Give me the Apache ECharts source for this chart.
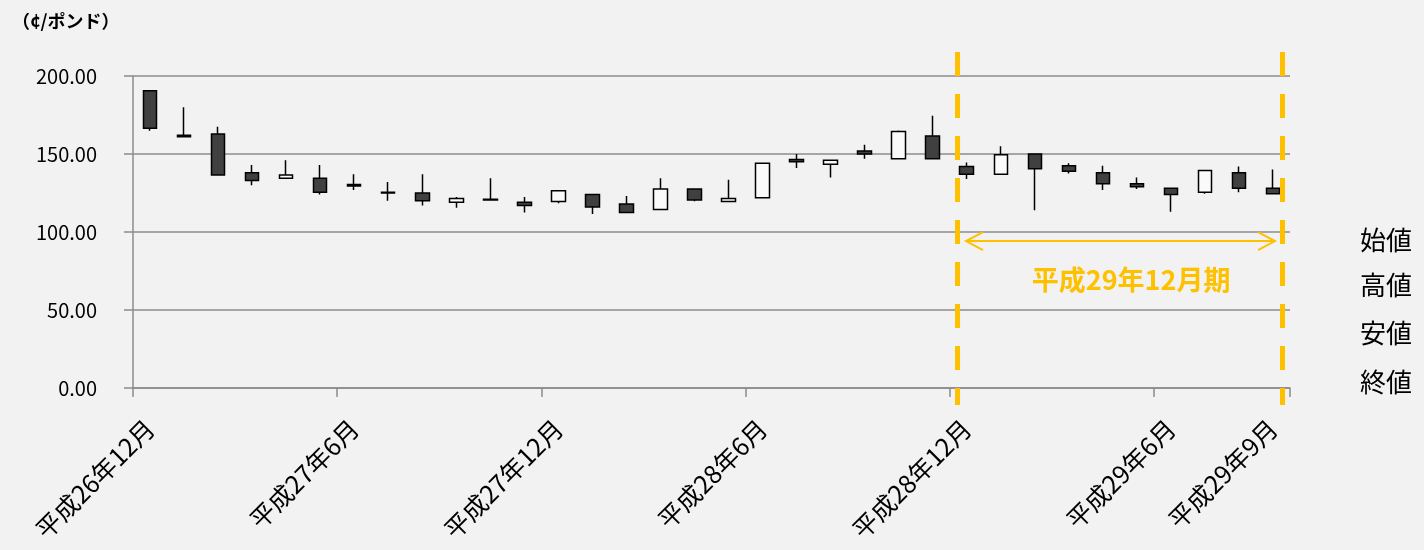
<!DOCTYPE html>
<html><head><meta charset="utf-8">
<script src="https://cdn.jsdelivr.net/npm/echarts@6/dist/echarts.min.js"></script>
<style>html,body{margin:0;padding:0;background:#f2f2f2}#c{width:1424px;height:550px}</style>
</head><body><div id="c"></div>
<script>
const categories = [
  '平成26年12月',
  '平成27年1月','平成27年2月','平成27年3月','平成27年4月','平成27年5月','平成27年6月',
  '平成27年7月','平成27年8月','平成27年9月','平成27年10月','平成27年11月','平成27年12月',
  '平成28年1月','平成28年2月','平成28年3月','平成28年4月','平成28年5月','平成28年6月',
  '平成28年7月','平成28年8月','平成28年9月','平成28年10月','平成28年11月','平成28年12月',
  '平成29年1月','平成29年2月','平成29年3月','平成29年4月','平成29年5月','平成29年6月',
  '平成29年7月','平成29年8月','平成29年9月'
];
const opens  = [190.6,162,162.8,138,134.5,134.5,130.5,125.5,125,119,121,119,119.5,124,118,114.5,127.5,119.5,122,146.5,143.5,152,147,161.5,142,137,150,142.5,138,131,128,125.5,138,128];
const closes = [166.5,161,136.5,133,136.5,125.5,129.5,125,120,121.5,120.5,117,126.5,116,112.5,127.5,120.5,121.5,144,145,146,150,164.5,147,137,149.5,140.5,139,131,129,124,139.5,128,124.5];
const lows   = [164.9,161,136.5,130,134.5,124,127,120,117,115.5,120,112.5,118.5,111.5,112.5,114.5,119.7,119.5,122,141,135,147,146.5,147,134,137,114,137.5,127,127.5,113,124.5,125.5,124.5];
const highs  = [190.6,180,167.5,143,146,143,137,132,137,122.5,134.5,122.5,126.5,124,123,134.5,127.5,133.5,144,150,146,156,165,174.5,144.5,155,150,144,142.5,135,128,139.5,142,140];
const yTicks = [0, 50, 100, 150, 200];
const labelIdx = [0, 6, 12, 18, 24, 30, 33];
const legendNames = ['始値', '高値', '安値', '終値'];
const periodLabel = '平成29年12月期';
const unitLabel = '（¢/ポンド）';
// annotation positions on a month scale (0 = start of first month)
const periodStart = 24.23, periodEnd = 33.78;
const arrowFrom = 24.48, arrowTo = 33.56, arrowY = 94.2, textX = 29.33, textY = 69.2;
const dashTop = 215.4, dashBottom = -10.9;

const candleData = categories.map((c, i) => [opens[i], closes[i], lows[i], highs[i]]);
const chart = echarts.init(document.getElementById('c'));
const axisColor = '#8c8c8c';
const font = '"Noto Sans CJK JP", "Noto Sans", sans-serif';

chart.setOption({
  backgroundColor: '#f2f2f2',
  animation: false,
  textStyle: { fontFamily: font },
  grid: { left: 133, right: 134, top: 76, bottom: 162, containLabel: false },
  xAxis: [{
    type: 'category', data: categories, boundaryGap: true,
    axisLine: { lineStyle: { color: axisColor, width: 1.5 } },
    axisTick: { show: true, length: 9, lineStyle: { color: axisColor, width: 1.5 },
      interval: (i) => i % 6 === 0 && i <= 30 },
    axisLabel: { interval: (i) => labelIdx.indexOf(i) >= 0, rotate: 45, fontSize: 25, color: '#000',
      margin: 36, fontFamily: font },
    splitLine: { show: false }
  }, {
    type: 'value', min: 0, max: 34, show: false
  }],
  yAxis: {
    type: 'value', min: yTicks[0], max: yTicks[yTicks.length - 1], interval: 50,
    axisLine: { show: true, lineStyle: { color: axisColor, width: 1.5 } },
    axisTick: { show: true, length: 9, lineStyle: { color: axisColor, width: 1.5 } },
    axisLabel: { formatter: (v) => v.toFixed(2), fontSize: 20, color: '#000', margin: 36, fontFamily: font,
      padding: [0, 0, 9, 0] },
    splitLine: { lineStyle: { color: axisColor, width: 1.5 } }
  },
  series: [{
    type: 'candlestick', data: candleData, barWidth: 14,
    itemStyle: { color: '#fafafa', color0: '#404040', borderColor: '#000', borderColor0: '#000', borderWidth: 1.5 }
  }]
});

const px = (v) => chart.convertToPixel({ xAxisIndex: 1 }, v);
const py = (v) => chart.convertToPixel({ yAxisIndex: 0 }, v);
const orange = '#FFC000';
const xa = px(arrowFrom), xb = px(arrowTo), ya = py(arrowY);
const graphics = [
  { type: 'text', x: 12, y: 21, style: { text: unitLabel, font: 'bold 18px ' + font, fill: '#000', textVerticalAlign: 'middle' } }
];
[periodStart, periodEnd].forEach(v => {
  graphics.push({ type: 'line', shape: { x1: px(v), y1: py(dashTop), x2: px(v), y2: py(dashBottom) },
    style: { stroke: orange, lineWidth: 5, lineDash: [24, 18] }, z: 10 });
});
graphics.push({ type: 'line', shape: { x1: xa, y1: ya, x2: xb, y2: ya }, style: { stroke: orange, lineWidth: 2 }, z: 10 });
graphics.push({ type: 'polyline', shape: { points: [[xa + 17, ya - 9], [xa, ya], [xa + 17, ya + 9]] }, style: { stroke: orange, lineWidth: 2, fill: null }, z: 10 });
graphics.push({ type: 'polyline', shape: { points: [[xb - 17, ya - 9], [xb, ya], [xb - 17, ya + 9]] }, style: { stroke: orange, lineWidth: 2, fill: null }, z: 10 });
graphics.push({ type: 'text', x: px(textX), y: py(textY), z: 10,
  style: { text: periodLabel, font: 'bold 27px ' + font, fill: orange, textAlign: 'center', textVerticalAlign: 'middle' } });
const legendY = [240, 285, 333, 382];
legendNames.forEach((n, i) => {
  graphics.push({ type: 'text', x: 1360, y: legendY[i], style: { text: n, font: '26px ' + font, fill: '#000', textAlign: 'left', textVerticalAlign: 'middle' } });
});
chart.setOption({ graphic: graphics });
</script>
</body></html>
